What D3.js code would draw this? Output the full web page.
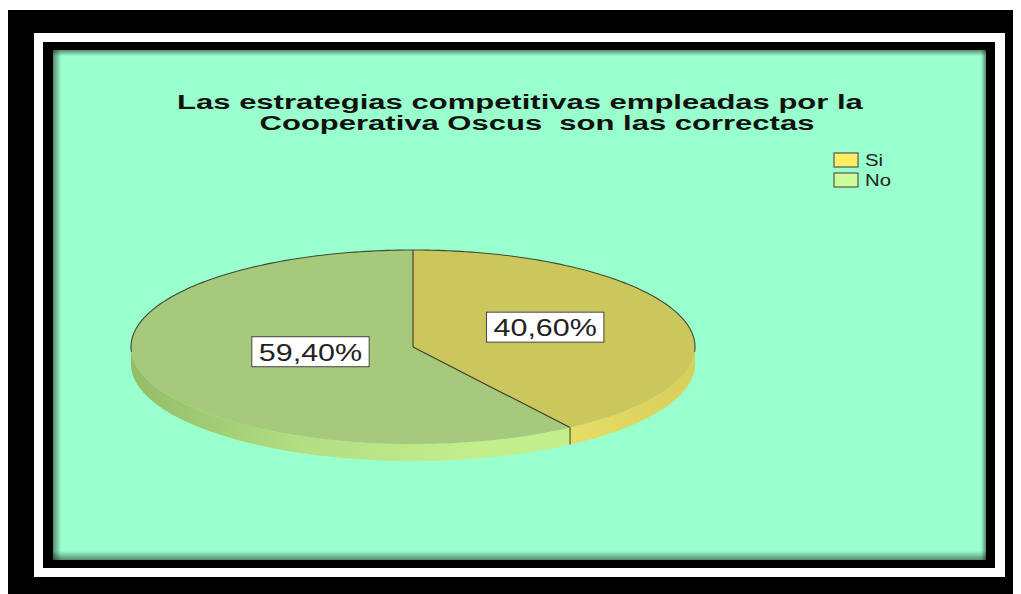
<!DOCTYPE html>
<html>
<head>
<meta charset="UTF-8">
<title>Estrategias competitivas</title>
<style>
  body { margin: 0; background: #fff; }
  svg { display: block; }
  text { font-family: "Liberation Sans", Arial, sans-serif; }
</style>
</head>
<body>
<script src="https://cdn.jsdelivr.net/npm/d3@7"></script>
<script>
// chart data
var categories = ["Si", "No"];
var values = [40.6, 59.4];
var titleLines = ["Las estrategias competitivas empleadas por la", "Cooperativa Oscus  son las correctas"];

var W = 1021, H = 594;
var svg = d3.select("body").append("svg").attr("width", W).attr("height", H);
var defs = svg.append("defs");

// frame: black outer, white band, black inner, green panel
svg.append("rect").attr("x", 8).attr("y", 10).attr("width", 1005).attr("height", 584).attr("fill", "#000");
svg.append("rect").attr("x", 34).attr("y", 33).attr("width", 971).attr("height", 544).attr("fill", "#fff");
svg.append("rect").attr("x", 43).attr("y", 42).attr("width", 952).attr("height", 526).attr("fill", "#000");
svg.append("rect").attr("x", 53).attr("y", 50).attr("width", 933).attr("height", 510).attr("fill", "#99FFCC");

// soft inner shadow along panel edges
function edgeGrad(id, x1, y1, x2, y2) {
  var g = defs.append("linearGradient").attr("id", id)
    .attr("x1", x1).attr("y1", y1).attr("x2", x2).attr("y2", y2);
  g.append("stop").attr("offset", 0).attr("stop-color", "#000").attr("stop-opacity", 0.45);
  g.append("stop").attr("offset", 1).attr("stop-color", "#000").attr("stop-opacity", 0);
}
edgeGrad("shL", 0, 0, 1, 0);
edgeGrad("shT", 0, 0, 0, 1);
edgeGrad("shB", 0, 1, 0, 0);
edgeGrad("shR", 1, 0, 0, 0);
svg.append("rect").attr("x", 53).attr("y", 50).attr("width", 8).attr("height", 510).attr("fill", "url(#shL)");
svg.append("rect").attr("x", 53).attr("y", 50).attr("width", 933).attr("height", 6).attr("fill", "url(#shT)");
svg.append("rect").attr("x", 53).attr("y", 551).attr("width", 933).attr("height", 9).attr("fill", "url(#shB)");
svg.append("rect").attr("x", 981).attr("y", 50).attr("width", 5).attr("height", 510).attr("fill", "url(#shR)");

// stretch text horizontally like the original
function stretch(sel, k) {
  sel.attr("textLength", function() { return this.getComputedTextLength() * k; })
     .attr("lengthAdjust", "spacingAndGlyphs");
}

// title
var titleX = [520, 537];
svg.selectAll("text.title").data(titleLines).enter().append("text")
  .attr("class", "title")
  .attr("x", function(d, i) { return titleX[i]; })
  .attr("y", function(d, i) { return 109 + i * 21; })
  .attr("text-anchor", "middle")
  .attr("font-size", 20).attr("font-weight", "bold").attr("fill", "#111")
  .style("white-space", "pre")
  .text(function(d) { return d; })
  .call(stretch, 1.55);

// pie geometry (elliptical 3d pie)
var cx = 413, cy = 347, rx = 282, ry = 97, depth = 17;
var legendColor = d3.scaleOrdinal().domain(categories).range(["#FFEE66", "#CCFF99"]);
var topColor = d3.scaleOrdinal().domain(categories).range(["#CCC75C", "#A6C97C"]);

var pie = d3.pie().sort(null).value(function(d) { return d; });
var arcs = pie(values).map(function(a, i) { a.cat = categories[i]; return a; });

function ex(a) { return cx + rx * Math.sin(a); }
function ey(a) { return cy - ry * Math.cos(a); }
function sample(a0, a1) {
  var n = Math.max(2, Math.ceil(Math.abs(a1 - a0) / 0.02));
  return d3.range(n + 1).map(function(k) { return a0 + (a1 - a0) * k / n; });
}
var line = d3.line();

// side gradients
var gNo = defs.append("linearGradient").attr("id", "sideNo").attr("gradientUnits", "userSpaceOnUse")
  .attr("x1", cx - rx).attr("y1", 0).attr("x2", cx + rx).attr("y2", 0);
gNo.append("stop").attr("offset", 0).attr("stop-color", "#93BC68");
gNo.append("stop").attr("offset", 0.3).attr("stop-color", "#B3DE82");
gNo.append("stop").attr("offset", 0.6).attr("stop-color", "#C2EE8C");
gNo.append("stop").attr("offset", 1).attr("stop-color", "#C2EE8C");
var gSi = defs.append("linearGradient").attr("id", "sideSi").attr("gradientUnits", "userSpaceOnUse")
  .attr("x1", cx - rx).attr("y1", 0).attr("x2", cx + rx).attr("y2", 0);
gSi.append("stop").attr("offset", 0).attr("stop-color", "#EAE26A");
gSi.append("stop").attr("offset", 0.75).attr("stop-color", "#E8DF66");
gSi.append("stop").attr("offset", 1).attr("stop-color", "#D8CF5C");
var sideFill = { "Si": "url(#sideSi)", "No": "url(#sideNo)" };

var pieG = svg.append("g");

// sides (front half only)
arcs.forEach(function(a) {
  var b0 = Math.max(a.startAngle, Math.PI / 2), b1 = Math.min(a.endAngle, Math.PI * 1.5);
  if (b1 <= b0) return;
  var angs = sample(b0, b1);
  var pts = angs.map(function(t) { return [ex(t), ey(t)]; })
    .concat(angs.slice().reverse().map(function(t) { return [ex(t), ey(t) + depth]; }));
  pieG.append("path").attr("d", line(pts) + "Z").attr("fill", sideFill[a.cat]);
});

// divider on the side where slices meet
arcs.forEach(function(a) {
  var t = a.endAngle;
  if (t > Math.PI / 2 && t < Math.PI * 1.5) {
    pieG.append("line").attr("x1", ex(t)).attr("y1", ey(t)).attr("x2", ex(t)).attr("y2", ey(t) + depth)
      .attr("stroke", "#3a3a2a").attr("stroke-width", 1);
  }
});

// top faces
arcs.forEach(function(a) {
  var pts = [[cx, cy]].concat(sample(a.startAngle, a.endAngle).map(function(t) { return [ex(t), ey(t)]; }));
  pieG.append("path").attr("d", line(pts) + "Z").attr("fill", topColor(a.cat));
});

// outline on the back rim and radial dividers
pieG.append("path")
  .attr("d", line(sample(-Math.PI / 2 - 0.05, Math.PI / 2 + 0.05).map(function(t) { return [ex(t), ey(t)]; })))
  .attr("fill", "none").attr("stroke", "#3d4a35").attr("stroke-width", 1.1);
arcs.forEach(function(a) {
  pieG.append("line").attr("x1", cx).attr("y1", cy).attr("x2", ex(a.startAngle)).attr("y2", ey(a.startAngle))
    .attr("stroke", "#3a3a2a").attr("stroke-width", 1.1);
});

// value labels
var loc = d3.formatLocale({ decimal: ",", thousands: ".", grouping: [3], currency: ["", ""] });
var fmt = loc.format(".2f");
var labelR = { "Si": 0.49, "No": 0.38 };
arcs.forEach(function(a) {
  var m = (a.startAngle + a.endAngle) / 2, f = labelR[a.cat];
  var lx = cx + rx * f * Math.sin(m), ly = cy - ry * f * Math.cos(m) - 6;
  var g = pieG.append("g");
  var t = g.append("text").attr("x", lx).attr("y", ly + 9)
    .attr("text-anchor", "middle").attr("font-size", 24).attr("fill", "#222")
    .text(fmt(a.data) + "%");
  var base = t.node().getComputedTextLength();
  t.attr("textLength", base * 1.27).attr("lengthAdjust", "spacingAndGlyphs");
  var w = base * 1.27 + 14;
  g.insert("rect", "text").attr("x", lx - w / 2).attr("y", ly - 15).attr("width", w).attr("height", 30)
    .attr("fill", "#fff").attr("stroke", "#444").attr("stroke-width", 1);
});

// legend
var leg = svg.append("g").attr("transform", "translate(834,153)");
var item = leg.selectAll("g").data(categories).enter().append("g")
  .attr("transform", function(d, i) { return "translate(0," + i * 20 + ")"; });
item.append("rect").attr("width", 24).attr("height", 14)
  .attr("fill", function(d) { return legendColor(d); }).attr("stroke", "#555").attr("stroke-width", 1.2);
item.append("text").attr("x", 31).attr("y", 13).attr("font-size", 16).attr("fill", "#222")
  .text(function(d) { return d; })
  .call(stretch, 1.27);
</script>
</body>
</html>
